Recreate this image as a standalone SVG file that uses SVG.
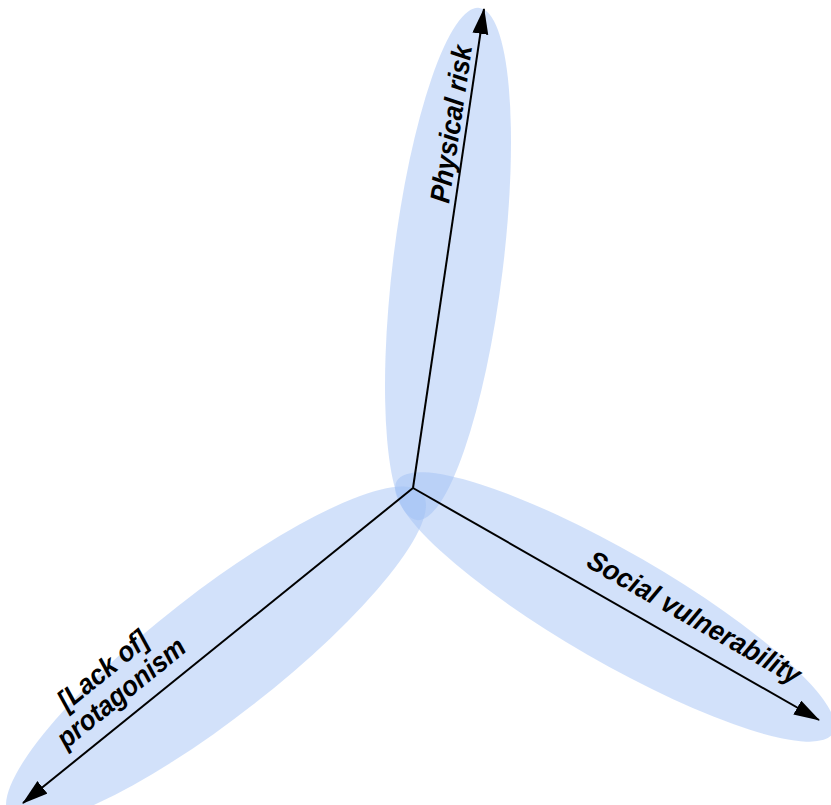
<svg xmlns="http://www.w3.org/2000/svg" width="831" height="805" viewBox="0 0 831 805">
<style>
.lobe{fill:#9fbff5;fill-opacity:0.47;stroke:none}
.axis{stroke:#000;stroke-width:2;fill:none;marker-end:url(#ah)}
.lbl{font-family:"Liberation Sans",Arial,sans-serif;font-weight:bold;font-style:italic;font-size:28px;fill:#000}
</style>
<defs>
<marker id="ah" markerUnits="userSpaceOnUse" markerWidth="28" markerHeight="18" refX="25" refY="8" orient="auto" viewBox="0 0 28 18">
<path d="M0,0 L26,8 L0,16 z" fill="#000"/>
</marker>
</defs>
<rect width="831" height="805" fill="#fff"/>
<g id="lobe-physical"><ellipse class="lobe" cx="448" cy="264" rx="55" ry="258" transform="rotate(7 448 264)"/></g>
<g id="lobe-social"><ellipse class="lobe" cx="615" cy="607" rx="252" ry="55" transform="rotate(30 615 607)"/></g>
<g id="lobe-protagonism"><ellipse class="lobe" cx="216" cy="655" rx="262" ry="62" transform="rotate(-38 216 655)"/></g>
<g id="connectors">
<line class="axis" x1="413" y1="488" x2="484" y2="9"/>
<line class="axis" x1="413" y1="488" x2="819" y2="720"/>
<line class="axis" x1="413" y1="488" x2="23" y2="803"/>
</g>
<g id="label-physical"><text class="lbl" transform="translate(449 204) rotate(-81.6)" textLength="159" lengthAdjust="spacingAndGlyphs">Physical risk</text></g>
<g id="label-social"><text class="lbl" transform="translate(585 566) rotate(29.7)" textLength="241" lengthAdjust="spacingAndGlyphs">Social vulnerability</text></g>
<g id="label-protagonism"><text class="lbl" text-anchor="middle" transform="translate(127 700) rotate(-39)"><tspan x="0" y="-29" textLength="108" lengthAdjust="spacingAndGlyphs">[Lack of]</tspan><tspan x="0" y="0" textLength="157" lengthAdjust="spacingAndGlyphs">protagonism</tspan></text></g>
</svg>
